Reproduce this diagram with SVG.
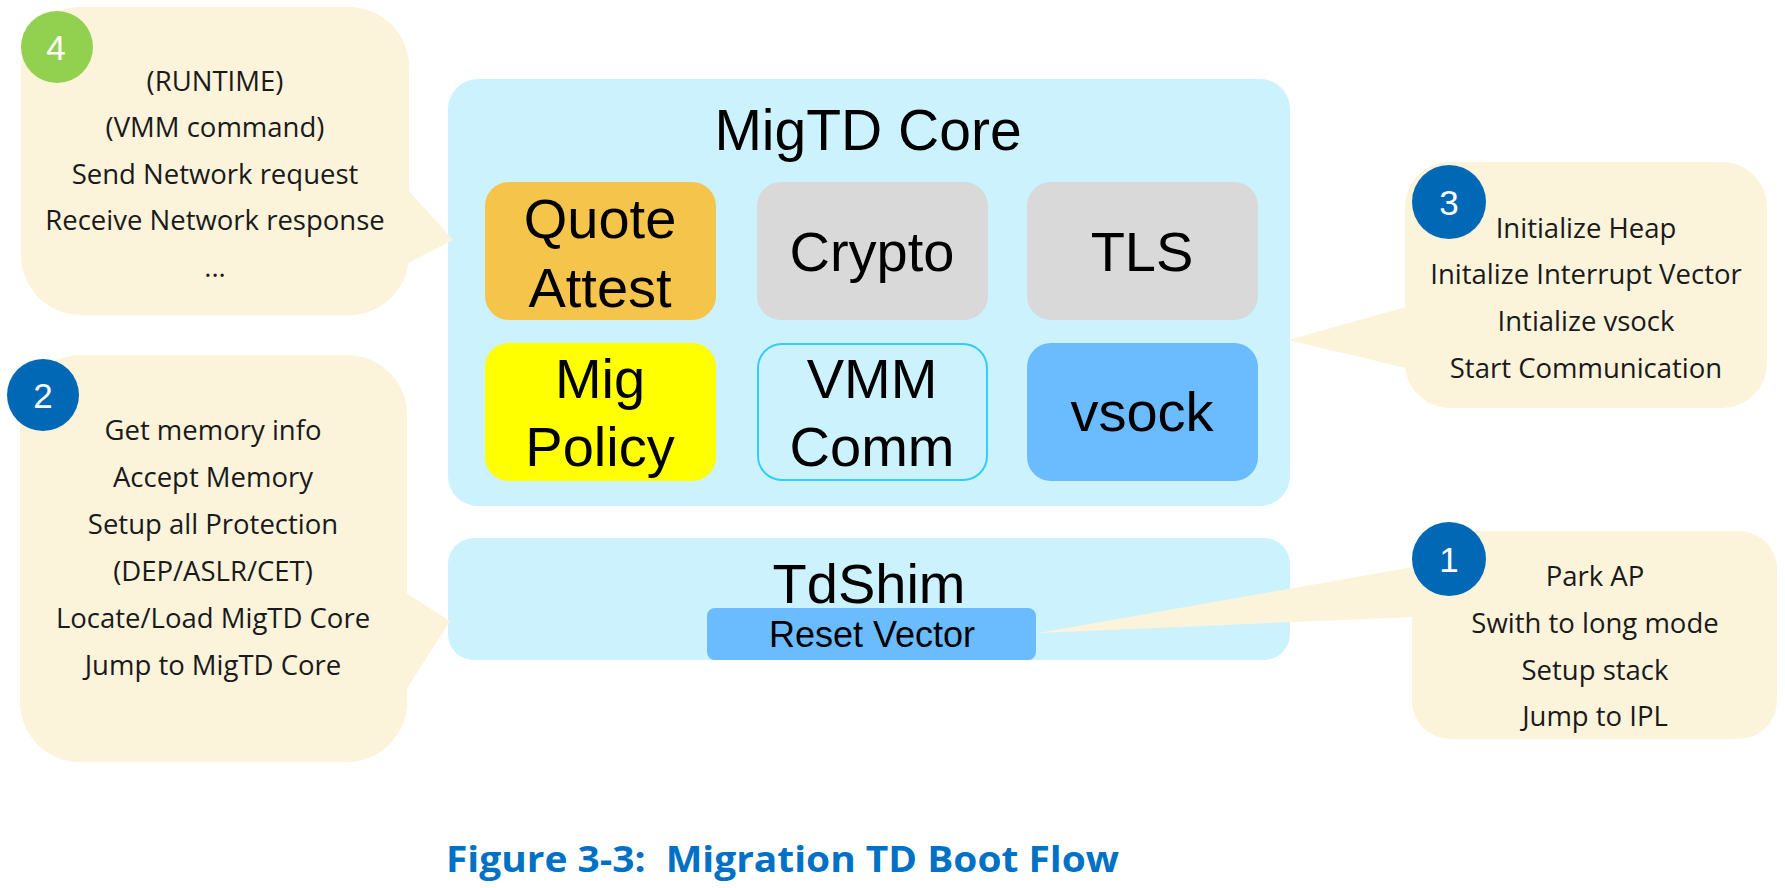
<svg xmlns="http://www.w3.org/2000/svg" width="1785" height="888" viewBox="0 0 1785 888">
<style>
.bub{fill:#FCF3DB}
.step{font-family:"Open Sans","Noto Sans","DejaVu Sans",sans-serif;font-size:27.5px;fill:#1a1a1a;text-anchor:middle}
.num{font-family:"Liberation Sans",Arial,sans-serif;font-size:35px;fill:#fff;text-anchor:middle}
.blk{font-family:"Liberation Sans",Arial,sans-serif;font-size:56px;fill:#000;text-anchor:middle}
.cblue{fill:#0068B5}
</style>
<rect width="1785" height="888" fill="#fff"/>

<g id="migtd-core">
<rect x="448" y="79" width="842" height="427" rx="30" fill="#CCF2FD"/>
<text class="blk" x="868" y="150" style="font-size:57px">MigTD Core</text>
</g>
<g id="quote-attest">
<rect x="485" y="182" width="231" height="138" rx="24" fill="#F5C54B"/>
<text class="blk" x="600" y="238">Quote</text>
<text class="blk" x="600" y="307">Attest</text>
</g>
<g id="crypto">
<rect x="757" y="182" width="231" height="138" rx="24" fill="#D9D9D9"/>
<text class="blk" x="872" y="271">Crypto</text>
</g>
<g id="tls">
<rect x="1027" y="182" width="231" height="138" rx="24" fill="#D9D9D9"/>
<text class="blk" x="1142" y="271">TLS</text>
</g>
<g id="mig-policy">
<rect x="485" y="343" width="231" height="138" rx="24" fill="#FFFF00"/>
<text class="blk" x="600" y="398">Mig</text>
<text class="blk" x="600" y="466">Policy</text>
</g>
<g id="vmm-comm">
<rect x="758" y="344" width="229" height="136" rx="24" fill="#CCF2FD" stroke="#33CCFF" stroke-width="2"/>
<text class="blk" x="872" y="398">VMM</text>
<text class="blk" x="872" y="466">Comm</text>
</g>
<g id="vsock">
<rect x="1027" y="343" width="231" height="138" rx="24" fill="#6BBBFF"/>
<text class="blk" x="1142" y="431">vsock</text>
</g>

<g id="tdshim">
<rect x="448" y="538" width="842" height="122" rx="26" fill="#CCF2FD"/>
<text class="blk" x="869" y="603">TdShim</text>
</g>
<g id="reset-vector">
<rect x="707" y="608" width="329" height="52" rx="8" fill="#6BBBFF"/>
<text class="blk" x="872" y="647" style="font-size:36px">Reset Vector</text>
</g>

<g id="step4">
<rect class="bub" x="21" y="7" width="388" height="308" rx="60"/>
<circle cx="57" cy="47" r="36" fill="#92D050"/>
<text class="num" x="56" y="60">4</text>
<text class="step" x="215" y="91">(RUNTIME)</text>
<text class="step" x="215" y="137">(VMM command)</text>
<text class="step" x="215" y="184">Send Network request</text>
<text class="step" x="215" y="230">Receive Network response</text>
<text class="step" x="215" y="277">...</text>
</g>

<g id="step2">
<rect class="bub" x="20" y="355" width="387" height="407" rx="60"/>
<circle class="cblue" cx="43" cy="395" r="36"/>
<text class="num" x="43" y="408">2</text>
<text class="step" x="213" y="440">Get memory info</text>
<text class="step" x="213" y="487">Accept Memory</text>
<text class="step" x="213" y="534">Setup all Protection</text>
<text class="step" x="213" y="581">(DEP/ASLR/CET)</text>
<text class="step" x="213" y="628">Locate/Load MigTD Core</text>
<text class="step" x="213" y="675">Jump to MigTD Core</text>
</g>

<g id="step3">
<rect class="bub" x="1405" y="162" width="362" height="246" rx="45"/>
<circle class="cblue" cx="1449" cy="202" r="37"/>
<text class="num" x="1449" y="215">3</text>
<text class="step" x="1586" y="238">Initialize Heap</text>
<text class="step" x="1586" y="284">Initalize Interrupt Vector</text>
<text class="step" x="1586" y="331">Intialize vsock</text>
<text class="step" x="1586" y="378">Start Communication</text>
</g>

<g id="step1">
<rect class="bub" x="1412" y="531" width="365" height="208" rx="38"/>
<circle class="cblue" cx="1449" cy="559" r="37"/>
<text class="num" x="1449" y="572">1</text>
<text class="step" x="1595" y="586">Park AP</text>
<text class="step" x="1595" y="633">Swith to long mode</text>
<text class="step" x="1595" y="680">Setup stack</text>
<text class="step" x="1595" y="726">Jump to IPL</text>
</g>

<g id="connectors">
<polygon class="bub" points="408,190 453,240 408,263"/>
<polygon class="bub" points="406,593 450,621 406,690"/>
<polygon class="bub" points="1406,307 1288,340 1406,368"/>
<polygon class="bub" points="1413,567 1038,633 1413,617"/>
</g>

<g id="caption">
<text x="446" y="872" font-family="'Open Sans','Noto Sans',sans-serif" font-weight="bold" font-size="35" fill="#0071C5" textLength="673" lengthAdjust="spacingAndGlyphs" xml:space="preserve">Figure 3-3:  Migration TD Boot Flow</text>
</g>
</svg>
